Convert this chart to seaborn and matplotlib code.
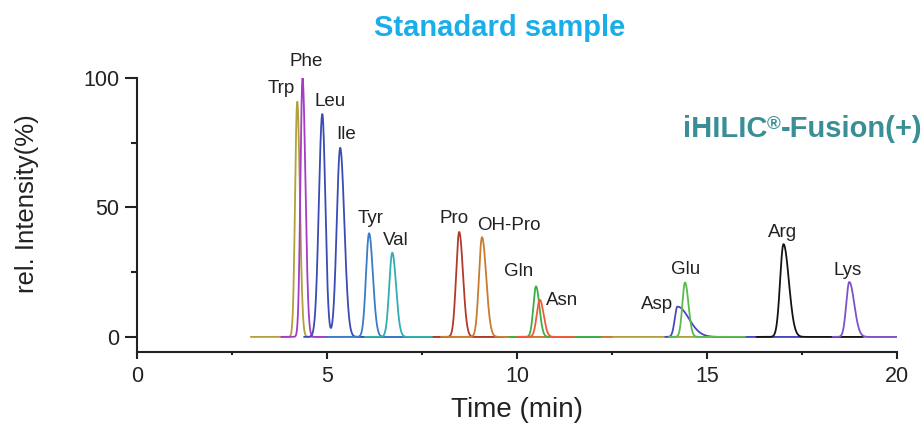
import numpy as np
import pandas as pd
import matplotlib
matplotlib.use('Agg')
import matplotlib.pyplot as plt
import seaborn as sns

# Peaks (time in min, height in % rel. intensity)
compounds = ['Trp', 'Phe', 'Leu', 'Ile', 'Tyr', 'Val', 'Pro', 'OH-Pro',
             'Gln', 'Asn', 'Asp', 'Glu', 'Arg', 'Lys']
peak_time = [4.22, 4.36, 4.88, 5.35, 6.11, 6.72, 8.48, 9.08,
             10.50, 10.60, 14.22, 14.42, 17.01, 18.74]
peak_height = [91, 100, 86, 73, 40, 32.5, 40.5, 38.5,
               19.5, 14.3, 11.7, 21, 35.8, 21.2]
sigma_left = [0.055, 0.055, 0.09, 0.09, 0.08, 0.08, 0.08, 0.08,
              0.07, 0.08, 0.07, 0.07, 0.09, 0.08]
sigma_right = [0.07, 0.075, 0.08, 0.11, 0.10, 0.10, 0.10, 0.11,
               0.09, 0.10, 0.30, 0.09, 0.14, 0.13]
# which trace (ion channel) each peak belongs to; Leu/Ile share one
peak_trace = ['Trp', 'Phe', 'Leu/Ile', 'Leu/Ile', 'Tyr', 'Val', 'Pro', 'OH-Pro',
              'Gln', 'Asn', 'Asp', 'Glu', 'Arg', 'Lys']

# traces: recorded time window
trace_names = ['Trp', 'Phe', 'Leu/Ile', 'Tyr', 'Val', 'Pro', 'OH-Pro',
               'Gln', 'Asn', 'Asp', 'Glu', 'Arg', 'Lys']
trace_start = [3.0, 3.8, 4.4, 5.0, 6.0, 7.8, 8.0, 9.8, 10.0, 13.9, 14.0, 16.3, 18.3]
trace_end = [20.0, 5.0, 7.0, 8.0, 8.2, 9.6, 12.5, 12.2, 11.5, 17.5, 16.0, 19.1, 20.0]
trace_colors = ['#b0a13c', '#a43cc4', '#3a4cb4', '#3a7cc6', '#32aeb0', '#b23a2a',
                '#c97b30', '#3cae48', '#f2593a', '#4848c6', '#5cba4c', '#141414', '#7c54c8']

# label offsets from apex (pixels)
label_dx = [-16, 4, 8, 6, 2, 4, -5, 27, -17, 22, -20, 1, -1, -2]
label_dy = [13, 16, 13, 13, 15, 12, 13, 12, 15, -1, 2, 13, 12, 11]


def peak_curve(t, t0, h, sl, sr):
    s = np.where(t < t0, sl, sr)
    return h * np.exp(-0.5 * ((t - t0) / s) ** 2)


rows = []
for name, t0, t1 in zip(trace_names, trace_start, trace_end):
    t = np.linspace(t0, t1, 1500)
    y = np.zeros_like(t)
    for i, tr in enumerate(peak_trace):
        if tr == name:
            y += peak_curve(t, peak_time[i], peak_height[i], sigma_left[i], sigma_right[i])
    rows.append(pd.DataFrame({'time': t, 'intensity': y, 'trace': name}))
df = pd.concat(rows, ignore_index=True)

sns.set_style('ticks')
plt.rcParams['font.family'] = ['Liberation Sans', 'DejaVu Sans']

fig = plt.figure(figsize=(9.24, 4.23), dpi=100)
ax = fig.add_axes([0.148, 0.168, 0.823, 0.648])

sns.lineplot(data=df, x='time', y='intensity', hue='trace', hue_order=trace_names,
             palette=dict(zip(trace_names, trace_colors)), estimator=None,
             linewidth=1.3, legend=False, ax=ax)

for i, name in enumerate(compounds):
    ax.annotate(name, (peak_time[i], peak_height[i]),
                xytext=(label_dx[i], label_dy[i]), textcoords='offset pixels',
                ha='center', va='center', fontsize=13.5, color='#222222',
                annotation_clip=False)

ax.set_xlim(0, 20)
ax.set_ylim(-5.8, 100)
ax.set_xticks([0, 5, 10, 15, 20])
ax.set_xticks([2.5, 7.5, 12.5, 17.5], minor=True)
ax.set_yticks([0, 50, 100])
ax.set_yticks([25, 75], minor=True)
ax.tick_params(axis='both', which='major', labelsize=15.5, width=1.5, colors='#222222')
ax.tick_params(axis='y', which='major', length=8.5, pad=4)
ax.tick_params(axis='y', which='minor', length=4, width=1.5, colors='#222222')
ax.tick_params(axis='x', which='major', length=5, pad=5)
ax.tick_params(axis='x', which='minor', length=2.5, width=1.5, colors='#222222')
sns.despine(ax=ax)
for sp in ['left', 'bottom']:
    ax.spines[sp].set_linewidth(1.5)
    ax.spines[sp].set_color('#222222')

ax.set_xlabel('Time (min)', fontsize=20, color='#222222', labelpad=7)
ax.set_ylabel('rel. Intensity(%)', fontsize=18.5, color='#222222')
ax.yaxis.set_label_coords(-0.128, 0.54)

fig.text(0.541, 0.934, 'Stanadard sample', ha='center', va='center',
         fontsize=21, fontweight='bold', color='#19aeea')
# iHILIC(R)-Fusion(+), with a bold superscript mark
brand = '#3a8e96'
t1 = fig.text(0.739, 0.662, 'iHILIC', ha='left', va='bottom',
              fontsize=21, fontweight='bold', color=brand)
t2 = ax.annotate('\u00ae', xy=(1.0, 0.98), xycoords=t1, ha='left', va='top',
                 fontsize=13.5, fontweight='bold', color=brand, annotation_clip=False)
ax.annotate('-Fusion(+)', xy=(1.0, 0.0), xycoords=(t2, t1), ha='left', va='bottom',
            fontsize=21, fontweight='bold', color=brand, annotation_clip=False)

fig.savefig('out.png', dpi=100)
